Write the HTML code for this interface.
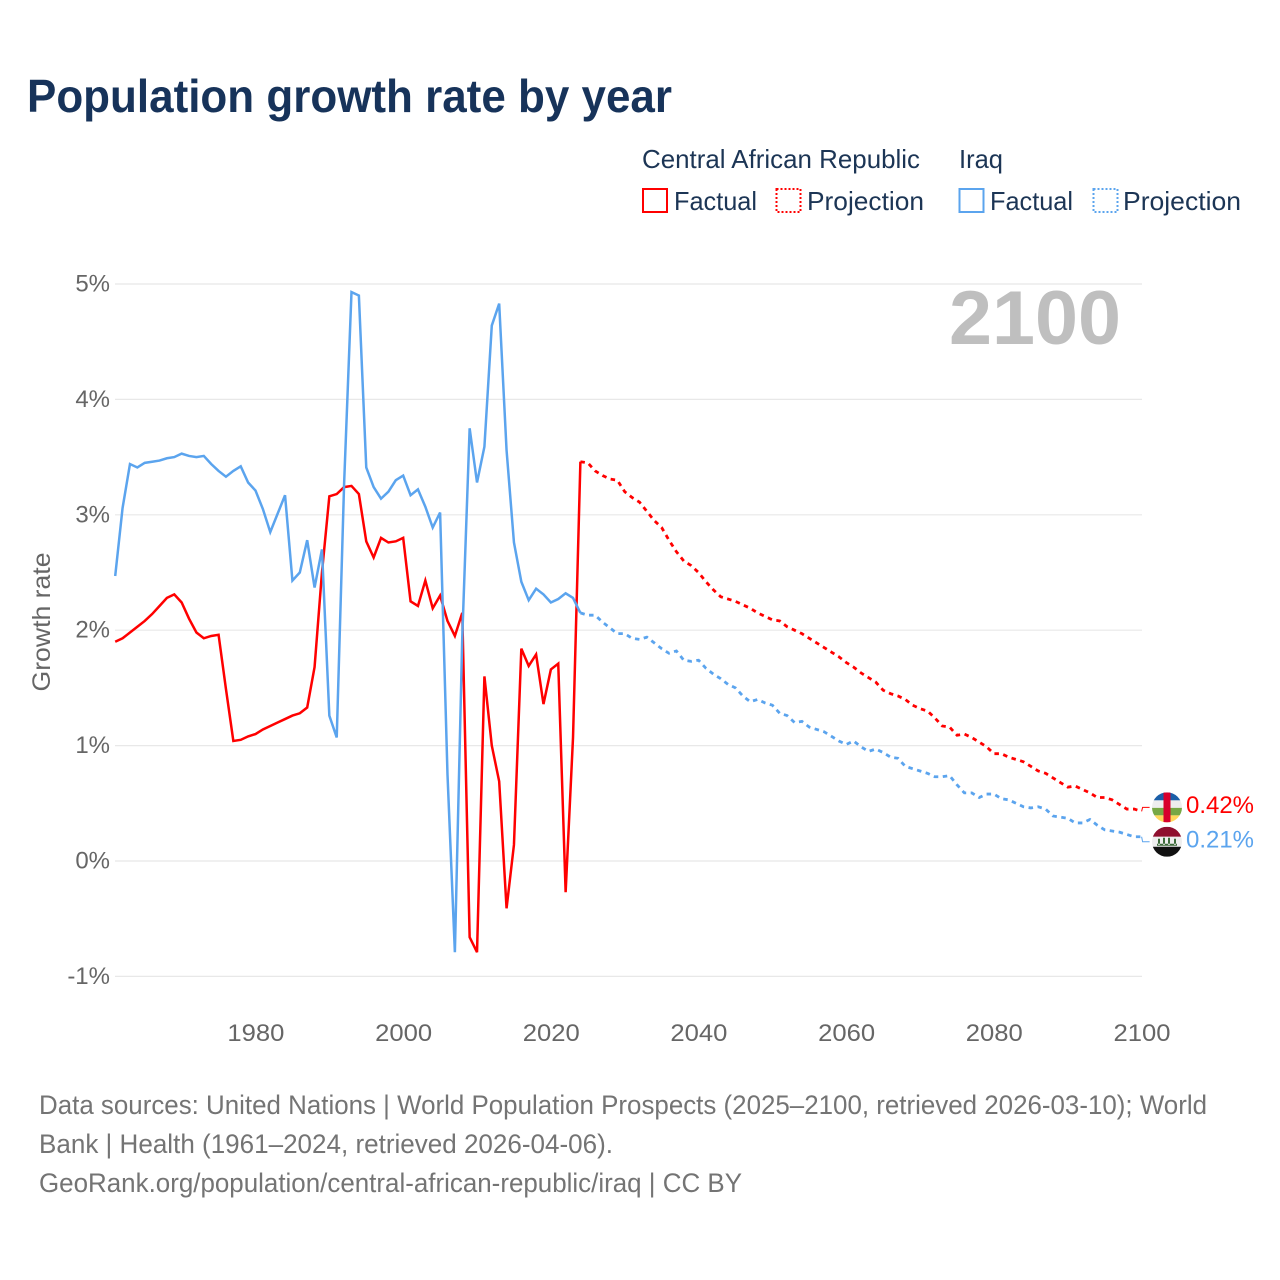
<!DOCTYPE html>
<html lang="en">
<head>
<meta charset="utf-8">
<title>Population growth rate by year</title>
<style>
html,body{margin:0;padding:0;background:#fff;}
svg{display:block;font-family:"Liberation Sans",Arial,sans-serif;}
</style>
</head>
<body>
<svg id="chart" xmlns="http://www.w3.org/2000/svg" width="1280" height="1280" viewBox="0 0 1280 1280">
  <rect x="0" y="0" width="1280" height="1280" fill="#ffffff"/>
  <text x="27" y="112" font-size="46" font-weight="700" fill="#17335a" textLength="645" lengthAdjust="spacingAndGlyphs">Population growth rate by year</text>

  <g font-size="26" fill="#1c3555">
    <text x="642" y="168" textLength="278" lengthAdjust="spacingAndGlyphs">Central African Republic</text>
    <text x="959" y="168" textLength="44" lengthAdjust="spacingAndGlyphs">Iraq</text>
    <rect x="643" y="189" width="24" height="23" fill="none" stroke="#ff0000" stroke-width="2"/>
    <text x="674" y="210" textLength="83" lengthAdjust="spacingAndGlyphs">Factual</text>
    <rect x="776.5" y="189" width="24" height="23" fill="none" stroke="#ff0000" stroke-width="2" stroke-dasharray="2 2"/>
    <text x="807" y="210" textLength="117" lengthAdjust="spacingAndGlyphs">Projection</text>
    <rect x="959.5" y="189" width="24" height="23" fill="none" stroke="#5ba4ee" stroke-width="2"/>
    <text x="990" y="210" textLength="83" lengthAdjust="spacingAndGlyphs">Factual</text>
    <rect x="1093.5" y="189" width="24" height="23" fill="none" stroke="#5ba4ee" stroke-width="2" stroke-dasharray="2 2"/>
    <text x="1123" y="210" textLength="118" lengthAdjust="spacingAndGlyphs">Projection</text>
  </g>

  <g id="grid"></g>
  <g id="yticks" font-size="24" fill="#666666" text-anchor="end"></g>
  <g id="xticks" font-size="24" fill="#666666" text-anchor="middle"></g>
  <text transform="translate(50,622) rotate(-90)" font-size="25" fill="#666666" text-anchor="middle" textLength="139" lengthAdjust="spacingAndGlyphs">Growth rate</text>
  <text x="949" y="344" font-size="76" font-weight="700" fill="#bfbfbf" textLength="172" lengthAdjust="spacingAndGlyphs">2100</text>

  <g id="series"></g>

  <defs>
    <clipPath id="clip-car"><circle cx="0" cy="0" r="15"/></clipPath>
    <clipPath id="clip-iraq"><circle cx="0" cy="0" r="15"/></clipPath>
  </defs>
  <g id="flag-car" clip-path="url(#clip-car)">
    <rect x="-15" y="-15" width="30" height="8" fill="#1b5fa8"/>
    <rect x="-15" y="-7" width="30" height="7.5" fill="#eeeeee"/>
    <rect x="-15" y="0.5" width="30" height="7.5" fill="#77a845"/>
    <rect x="-15" y="8" width="30" height="7" fill="#ffd85a"/>
    <rect x="-3.5" y="-15" width="7" height="30" fill="#d8002c"/>
  </g>
  <g id="flag-iraq" clip-path="url(#clip-iraq)">
    <rect x="-15" y="-15" width="30" height="10" fill="#8f0f2e"/>
    <rect x="-15" y="-5" width="30" height="10" fill="#eeeeee"/>
    <rect x="-15" y="5" width="30" height="10" fill="#111111"/>
    <path d="M-10 4h20v-2h-20z M-9 3v-6h2v6z M-4 3v-7h2v7z M1 3v-7h2v7z M7 3v-6h2v6z" fill="#3d6b3a"/>
  </g>
  <g id="end-labels" font-size="24"></g>

  <g font-size="27" fill="#747474">
    <text x="39" y="1114" textLength="1168" lengthAdjust="spacingAndGlyphs">Data sources: United Nations | World Population Prospects (2025–2100, retrieved 2026-03-10); World</text>
    <text x="39" y="1153" textLength="574" lengthAdjust="spacingAndGlyphs">Bank | Health (1961–2024, retrieved 2026-04-06).</text>
    <text x="39" y="1192" textLength="703" lengthAdjust="spacingAndGlyphs">GeoRank.org/population/central-african-republic/iraq | CC BY</text>
  </g>
</svg>

<script>
const yTickValues = [-1, 0, 1, 2, 3, 4, 5];
const xTickYears = [1980, 2000, 2020, 2040, 2060, 2080, 2100];
const firstYear = 1961;
const projectionStartYear = 2025;

const carFactual = [1.90,1.93,1.98,2.03,2.08,2.14,2.21,2.28,2.31,2.24,2.10,1.98,1.93,1.95,1.96,1.49,1.04,1.05,1.08,1.10,
  1.14,1.17,1.20,1.23,1.26,1.28,1.33,1.68,2.50,3.16,3.18,3.24,3.25,3.18,2.77,2.63,2.80,2.76,2.77,2.80,
  2.25,2.21,2.43,2.19,2.30,2.08,1.95,2.15,-0.66,-0.79,1.60,1.00,0.69,-0.41,0.14,1.84,1.69,1.79,1.36,1.66,
  1.71,-0.27,1.07,3.46];
const carProjection = [3.45,3.38,3.34,3.31,3.30,3.20,3.15,3.11,3.03,2.95,2.89,2.78,2.68,2.60,2.56,2.50,
  2.42,2.35,2.29,2.27,2.25,2.22,2.19,2.15,2.12,2.09,2.08,2.03,2.00,1.97,1.93,1.89,1.85,1.81,1.77,1.72,
  1.68,1.63,1.59,1.55,1.48,1.45,1.43,1.40,1.35,1.32,1.30,1.24,1.17,1.16,1.09,1.10,1.07,1.03,0.99,0.93,
  0.93,0.90,0.88,0.86,0.82,0.78,0.76,0.72,0.68,0.64,0.65,0.62,0.59,0.55,0.55,0.53,0.49,0.45,0.45,0.43];
const iraqFactual = [2.47,3.06,3.44,3.41,3.45,3.46,3.47,3.49,3.50,3.53,3.51,3.50,3.51,3.44,3.38,3.33,3.38,3.42,3.28,3.21,
  3.05,2.85,3.01,3.17,2.43,2.50,2.78,2.37,2.70,1.26,1.07,3.27,4.93,4.90,3.41,3.24,3.14,3.20,3.30,3.34,
  3.17,3.22,3.07,2.89,3.02,0.75,-0.79,1.94,3.75,3.28,3.59,4.64,4.83,3.56,2.76,2.42,2.26,2.36,2.31,2.24,
  2.27,2.32,2.28,2.15];
const iraqProjection = [2.13,2.13,2.07,2.02,1.97,1.97,1.93,1.92,1.94,1.89,1.84,1.80,1.82,1.74,1.73,1.74,
  1.67,1.62,1.58,1.53,1.50,1.43,1.38,1.40,1.37,1.35,1.28,1.26,1.20,1.21,1.16,1.14,1.12,1.08,1.04,1.01,
  1.04,0.99,0.95,0.97,0.94,0.90,0.89,0.82,0.80,0.78,0.76,0.73,0.73,0.74,0.66,0.59,0.59,0.55,0.58,0.58,
  0.54,0.53,0.50,0.47,0.46,0.47,0.45,0.39,0.38,0.37,0.33,0.33,0.36,0.31,0.27,0.26,0.25,0.23,0.21,0.21];
const endLabelCar = "0.42%";
const endLabelIraq = "0.21%";

const NS = "http://www.w3.org/2000/svg";
const xScale = year => 115.2 + (year - firstYear) * (1141.6 - 115.2) / (2100 - firstYear);
const yScale = value => 861 - value * 115.4;

function make(tag, attrs, parent, text) {
  const el = document.createElementNS(NS, tag);
  for (const key in attrs) el.setAttribute(key, attrs[key]);
  if (text !== undefined) el.textContent = text;
  parent.appendChild(el);
  return el;
}

const gridGroup = document.getElementById("grid");
const yTickGroup = document.getElementById("yticks");
const xTickGroup = document.getElementById("xticks");
const seriesGroup = document.getElementById("series");
const endGroup = document.getElementById("end-labels");

yTickValues.forEach(v => {
  const line = make("line", {x1: 115, x2: 1142, y1: yScale(v), y2: yScale(v), stroke: "#e8e8e8", "stroke-width": 1.2}, gridGroup);
  
  
  const label = make("text", {x: 110, y: yScale(v) + 7.5}, yTickGroup, v + "%");
  
  
});

xTickYears.forEach(year => {
  const label = make("text", {x: xScale(year) + 0.4, y: 1041, textLength: 57, lengthAdjust: "spacingAndGlyphs"}, xTickGroup, String(year));
  
  
});

function pathFrom(values, startYear) {
  return values.map((v, i) => (i ? "L" : "M") + xScale(startYear + i).toFixed(2) + " " + yScale(v).toFixed(2)).join(" ");
}

function drawSeries(factual, projection, color, nameKey) {
  const solid = make("path", {d: pathFrom(factual, firstYear), fill: "none", stroke: color, "stroke-width": 2.5, "stroke-linejoin": "miter"}, seriesGroup);
  
  
  const joined = [factual[factual.length - 1]].concat(projection);
  const dashed = make("path", {d: pathFrom(joined, projectionStartYear - 1), fill: "none", stroke: color, "stroke-width": 2.8, "stroke-dasharray": "4.5 4.5"}, seriesGroup);
  
  
}

drawSeries(carFactual, carProjection, "#ff0000", "car");
drawSeries(iraqFactual, iraqProjection, "#5ba4ee", "iraq");

function drawEnd(values, offset, color, flagId, label, nameKey) {
  const endValue = values[values.length - 1];
  const yEnd = yScale(endValue);
  const yLabel = yEnd + offset;
  const xEnd = xScale(2100);
  const stub = make("path", {d: "M" + xEnd + " " + yEnd + " L" + (xEnd + 1) + " " + yLabel + " L" + (xEnd + 8) + " " + yLabel, fill: "none", stroke: color, "stroke-width": 1}, endGroup);
  
  
  document.getElementById(flagId).setAttribute("transform", "translate(1167," + yLabel + ")");
  const text = make("text", {x: 1186, y: yLabel + 5.8, fill: color, textLength: 68, lengthAdjust: "spacingAndGlyphs"}, endGroup, label);
  
  
}

drawEnd(carProjection, -4, "#ff0000", "flag-car", endLabelCar, "car");
drawEnd(iraqProjection, 5, "#5ba4ee", "flag-iraq", endLabelIraq, "iraq");
</script>
</body>
</html>
